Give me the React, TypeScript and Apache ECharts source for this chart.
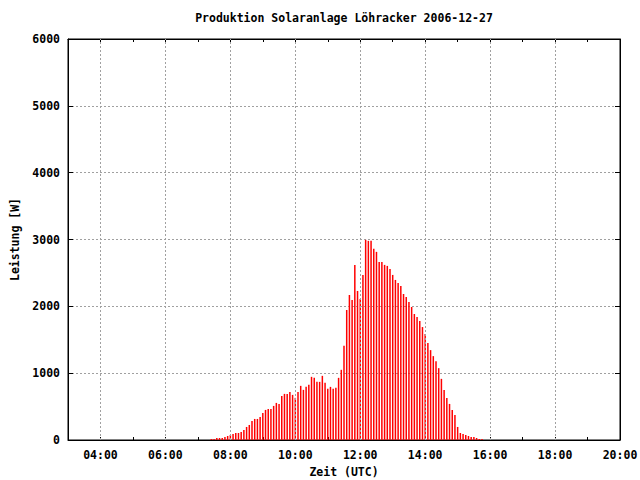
import React, { useEffect, useRef } from "react";
import * as echarts from "echarts";

const TITLE = "Produktion Solaranlage Löhracker 2006-12-27";
const X_NAME = "Zeit (UTC)";
const Y_NAME = "Leistung [W]";

const TIMES = [
  "07:25", "07:30", "07:35", "07:40", "07:45", "07:50", "07:55",
  "08:00", "08:05", "08:10", "08:15", "08:20", "08:25", "08:30", "08:35", "08:40", "08:45", "08:50", "08:55",
  "09:00", "09:05", "09:10", "09:15", "09:20", "09:25", "09:30", "09:35", "09:40", "09:45", "09:50", "09:55",
  "10:00", "10:05", "10:10", "10:15", "10:20", "10:25", "10:30", "10:35", "10:40", "10:45", "10:50", "10:55",
  "11:00", "11:05", "11:10", "11:15", "11:20", "11:25", "11:30", "11:35", "11:40", "11:45", "11:50", "11:55",
  "12:00", "12:05", "12:10", "12:15", "12:20", "12:25", "12:30", "12:35", "12:40", "12:45", "12:50", "12:55",
  "13:00", "13:05", "13:10", "13:15", "13:20", "13:25", "13:30", "13:35", "13:40", "13:45", "13:50", "13:55",
  "14:00", "14:05", "14:10", "14:15", "14:20", "14:25", "14:30", "14:35", "14:40", "14:45", "14:50", "14:55",
  "15:00", "15:05", "15:10", "15:15", "15:20", "15:25", "15:30", "15:35", "15:40", "15:45",
];

const POWER = [
  15, 15, 30, 30, 30, 45, 60,
  75, 90, 105, 105, 120, 150, 195, 225, 285, 315, 315, 345,
  405, 450, 465, 465, 510, 555, 540, 660, 690, 690, 720, 675,
  630, 720, 810, 750, 795, 825, 945, 930, 870, 870, 960, 855,
  765, 795, 765, 780, 930, 1050, 1410, 1945, 2170, 2095, 2620, 2230,
  2110, 2470, 2995, 2980, 2980, 2860, 2815, 2665, 2665, 2620, 2605, 2560,
  2470, 2395, 2350, 2305, 2185, 2140, 2065, 1990, 1885, 1840, 1780, 1690,
  1585, 1450, 1345, 1255, 1180, 1075, 915, 750, 630, 540, 450, 375,
  195, 105, 90, 75, 60, 45, 45, 30, 15, 15,
];

const X_MIN = 3;
const X_MAX = 20;
const X_GRID_HOURS = [4, 6, 8, 10, 12, 14, 16, 18];
const Y_MIN = 0;
const Y_MAX = 6000;
const Y_STEP = 1000;

const FONT = "'DejaVu Sans Mono', 'Liberation Mono', monospace";
const FS = 11.5;

function toHours(t: string): number {
  const [h, m] = t.split(":").map(Number);
  return h + m / 60;
}

function hourLabel(v: number): string {
  if (v % 2 !== 0 || v <= X_MIN) return "";
  const h = Math.round(v);
  return (h < 10 ? "0" + h : "" + h) + ":00";
}

export default function App() {
  const ref = useRef<HTMLDivElement>(null);

  useEffect(() => {
    if (!ref.current) return;
    const chart = echarts.init(ref.current, null, { renderer: "svg" });
    const data = TIMES.map((t, i) => [toHours(t), POWER[i]]);
    const txt = { color: "#000", fontFamily: FONT, fontSize: FS, fontWeight: "bold" as const };
    const gridLine = { color: "#a0a0a0", width: 1, type: [2, 2] as number[] };

    chart.setOption({
      animation: false,
      backgroundColor: "#ffffff",
      title: {
        text: TITLE,
        left: 344,
        textAlign: "center",
        top: 12,
        padding: 0,
        textStyle: { ...txt },
      },
      grid: {
        left: 68,
        right: 20,
        top: 39,
        bottom: 40,
        containLabel: false,
        outerBoundsMode: "none",
        show: true,
        borderColor: "#000",
        borderWidth: 1,
        backgroundColor: "transparent",
      },
      xAxis: [
        {
          type: "value",
          min: X_MIN,
          max: X_MAX,
          interval: 1,
          position: "bottom",
          axisLine: { show: true, onZero: false, lineStyle: { color: "#000", width: 1 } },
          axisTick: { show: true, inside: true, length: 3, lineStyle: { color: "#000" } },
          axisLabel: { ...txt, margin: 9, formatter: hourLabel, hideOverlap: false },
          splitLine: { show: false },
          name: X_NAME,
          nameLocation: "middle",
          nameGap: 26,
          nameTextStyle: { ...txt },
        },
        {
          type: "value",
          min: X_MIN,
          max: X_MAX,
          interval: 1,
          position: "top",
          axisLine: { show: true, onZero: false, lineStyle: { color: "#000", width: 1 } },
          axisTick: { show: true, inside: true, length: 3, lineStyle: { color: "#000" } },
          axisLabel: { show: false },
          splitLine: { show: false },
        },
      ],
      yAxis: [
        {
          type: "value",
          min: Y_MIN,
          max: Y_MAX,
          interval: Y_STEP,
          position: "left",
          axisLine: { show: true, onZero: false, lineStyle: { color: "#000", width: 1 } },
          axisTick: { show: true, inside: true, length: 5, lineStyle: { color: "#000" } },
          axisLabel: { ...txt, margin: 8, formatter: (v: number) => String(v) },
          splitLine: { show: true, lineStyle: gridLine },
          name: Y_NAME,
          nameLocation: "middle",
          nameGap: 47,
          nameRotate: 90,
          nameTextStyle: { ...txt },
        },
        {
          type: "value",
          min: Y_MIN,
          max: Y_MAX,
          interval: Y_STEP,
          position: "right",
          axisLine: { show: true, onZero: false, lineStyle: { color: "#000", width: 1 } },
          axisTick: { show: true, inside: true, length: 5, lineStyle: { color: "#000" } },
          axisLabel: { show: false },
          splitLine: { show: false },
        },
      ],
      series: [
        {
          type: "line",
          name: "grid",
          xAxisIndex: 0,
          yAxisIndex: 0,
          data: [],
          z: 1,
          silent: true,
          markLine: {
            silent: true,
            symbol: "none",
            label: { show: false },
            lineStyle: gridLine,
            emphasis: { disabled: true },
            data: X_GRID_HOURS.map((h) => ({ xAxis: h })),
          },
        },
        {
          type: "bar",
          name: "Leistung",
          xAxisIndex: 0,
          yAxisIndex: 0,
          data,
          barWidth: 1.5,
          z: 3,
          itemStyle: { color: "#ff0000" },
          silent: true,
        },
      ],
    });

    return () => chart.dispose();
  }, []);

  return <div ref={ref} style={{ width: 640, height: 480, position: "absolute", left: 0, top: 0 }} />;
}
